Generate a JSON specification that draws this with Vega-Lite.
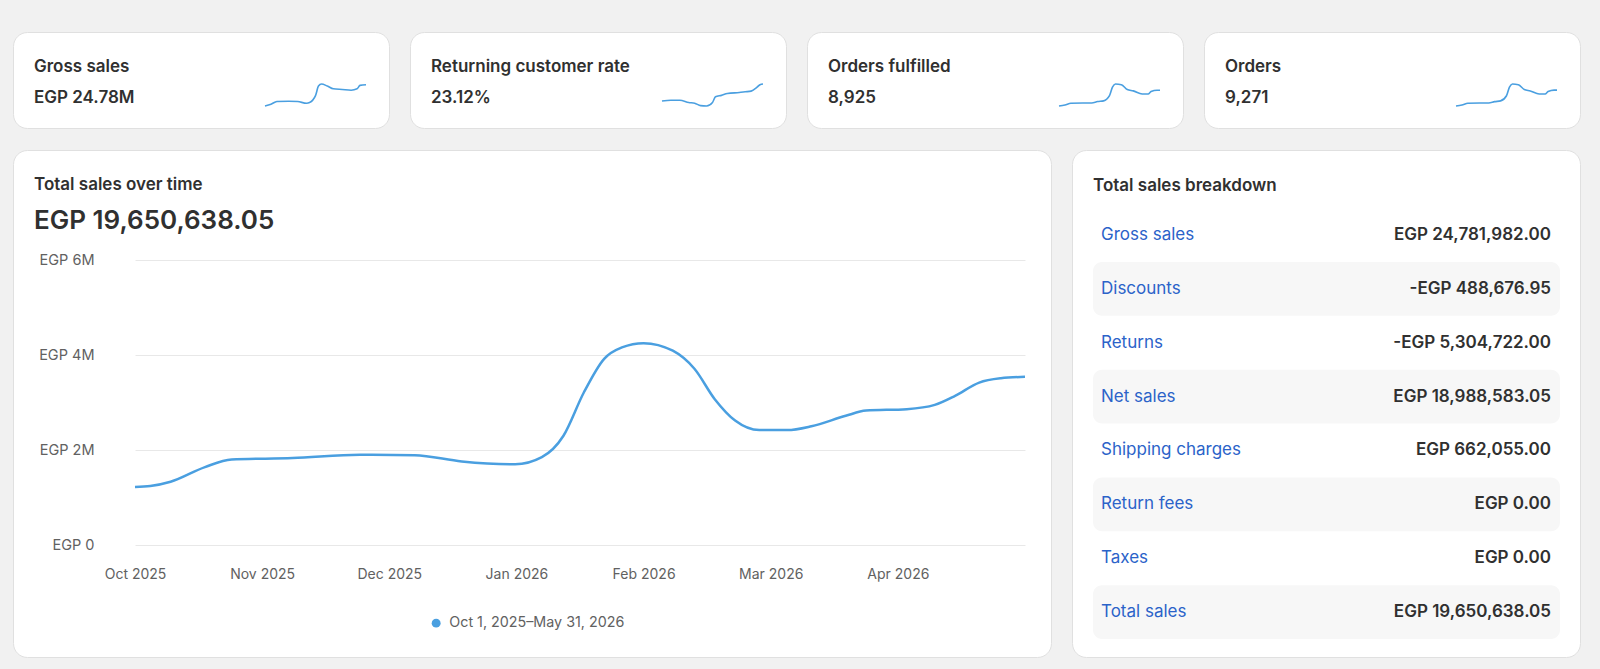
{
  "$schema": "https://vega.github.io/schema/vega-lite/v6.json",
  "background": "#f1f1f1",
  "padding": {"left": 12, "top": 31, "right": 21, "bottom": 11},
  "spacing": 20,
  "config": {
    "font": "Inter",
    "view": {"fill": "#ffffff", "stroke": "#e0e0e0", "strokeWidth": 1, "cornerRadius": 14},
    "title": {"anchor": "start", "frame": "group", "orient": "top", "dx": 21, "fontSize": 17, "fontWeight": 600, "color": "#303030", "subtitleFontSize": 17, "subtitleFontWeight": 600, "subtitleColor": "#303030", "subtitlePadding": 14, "offset": -75, "subtitleFont": "Inter"}
  },
  "datasets": {
    "gross": [
      {"week": 0, "value": 0.40}, {"week": 2, "value": 0.455}, {"week": 4, "value": 0.543}, {"week": 8, "value": 0.554},
      {"week": 11, "value": 0.543}, {"week": 14, "value": 0.488}, {"week": 15, "value": 0.51}, {"week": 17, "value": 0.73},
      {"week": 18, "value": 1.038}, {"week": 19, "value": 1.104}, {"week": 21, "value": 1.038}, {"week": 23, "value": 0.95},
      {"week": 26, "value": 0.928}, {"week": 29, "value": 0.906}, {"week": 31, "value": 0.95}, {"week": 32, "value": 1.06},
      {"week": 34, "value": 1.082}
    ],
    "returning": [
      {"week": 0, "value": 21.4}, {"week": 3, "value": 21.6}, {"week": 6, "value": 21.6}, {"week": 9, "value": 21.0},
      {"week": 11, "value": 20.8}, {"week": 13, "value": 20.1}, {"week": 15, "value": 20.0}, {"week": 17, "value": 21.0},
      {"week": 18, "value": 22.6}, {"week": 20, "value": 23.0}, {"week": 22, "value": 23.5}, {"week": 26, "value": 23.8},
      {"week": 28, "value": 24.0}, {"week": 30, "value": 24.2}, {"week": 32, "value": 25.3}, {"week": 33, "value": 26.0},
      {"week": 34, "value": 26.2}
    ],
    "fulfilled": [
      {"week": 0, "value": 140}, {"week": 2, "value": 150}, {"week": 4, "value": 168}, {"week": 8, "value": 171},
      {"week": 11, "value": 171}, {"week": 13, "value": 185}, {"week": 15, "value": 192}, {"week": 17, "value": 245},
      {"week": 18, "value": 332}, {"week": 19, "value": 364}, {"week": 21, "value": 357}, {"week": 23, "value": 308},
      {"week": 25, "value": 294}, {"week": 28, "value": 262}, {"week": 30, "value": 262}, {"week": 31, "value": 287},
      {"week": 33, "value": 301}, {"week": 34, "value": 301}
    ],
    "orders": [
      {"week": 0, "value": 146}, {"week": 2, "value": 156}, {"week": 4, "value": 175}, {"week": 8, "value": 178},
      {"week": 11, "value": 178}, {"week": 13, "value": 192}, {"week": 15, "value": 200}, {"week": 17, "value": 254},
      {"week": 18, "value": 345}, {"week": 19, "value": 378}, {"week": 21, "value": 371}, {"week": 23, "value": 320},
      {"week": 25, "value": 305}, {"week": 28, "value": 272}, {"week": 30, "value": 272}, {"week": 31, "value": 298},
      {"week": 33, "value": 313}, {"week": 34, "value": 313}
    ],
    "sales": [
      {"month": 0, "sales": 1220000, "period": "Oct 1, 2025–May 31, 2026"},
      {"month": 0.12, "sales": 1240000, "period": "Oct 1, 2025–May 31, 2026"},
      {"month": 0.28, "sales": 1330000, "period": "Oct 1, 2025–May 31, 2026"},
      {"month": 0.55, "sales": 1640000, "period": "Oct 1, 2025–May 31, 2026"},
      {"month": 0.76, "sales": 1800000, "period": "Oct 1, 2025–May 31, 2026"},
      {"month": 1.24, "sales": 1830000, "period": "Oct 1, 2025–May 31, 2026"},
      {"month": 1.77, "sales": 1900000, "period": "Oct 1, 2025–May 31, 2026"},
      {"month": 2.2, "sales": 1890000, "period": "Oct 1, 2025–May 31, 2026"},
      {"month": 2.57, "sales": 1760000, "period": "Oct 1, 2025–May 31, 2026"},
      {"month": 2.99, "sales": 1700000, "period": "Oct 1, 2025–May 31, 2026"},
      {"month": 3.2, "sales": 1850000, "period": "Oct 1, 2025–May 31, 2026"},
      {"month": 3.37, "sales": 2300000, "period": "Oct 1, 2025–May 31, 2026"},
      {"month": 3.53, "sales": 3210000, "period": "Oct 1, 2025–May 31, 2026"},
      {"month": 3.69, "sales": 3920000, "period": "Oct 1, 2025–May 31, 2026"},
      {"month": 3.83, "sales": 4160000, "period": "Oct 1, 2025–May 31, 2026"},
      {"month": 4.0, "sales": 4250000, "period": "Oct 1, 2025–May 31, 2026"},
      {"month": 4.23, "sales": 4090000, "period": "Oct 1, 2025–May 31, 2026"},
      {"month": 4.4, "sales": 3710000, "period": "Oct 1, 2025–May 31, 2026"},
      {"month": 4.56, "sales": 3070000, "period": "Oct 1, 2025–May 31, 2026"},
      {"month": 4.72, "sales": 2620000, "period": "Oct 1, 2025–May 31, 2026"},
      {"month": 4.91, "sales": 2420000, "period": "Oct 1, 2025–May 31, 2026"},
      {"month": 5.13, "sales": 2420000, "period": "Oct 1, 2025–May 31, 2026"},
      {"month": 5.32, "sales": 2500000, "period": "Oct 1, 2025–May 31, 2026"},
      {"month": 5.59, "sales": 2720000, "period": "Oct 1, 2025–May 31, 2026"},
      {"month": 5.75, "sales": 2830000, "period": "Oct 1, 2025–May 31, 2026"},
      {"month": 6.07, "sales": 2860000, "period": "Oct 1, 2025–May 31, 2026"},
      {"month": 6.29, "sales": 2950000, "period": "Oct 1, 2025–May 31, 2026"},
      {"month": 6.45, "sales": 3140000, "period": "Oct 1, 2025–May 31, 2026"},
      {"month": 6.64, "sales": 3420000, "period": "Oct 1, 2025–May 31, 2026"},
      {"month": 6.81, "sales": 3510000, "period": "Oct 1, 2025–May 31, 2026"},
      {"month": 7.0, "sales": 3540000, "period": "Oct 1, 2025–May 31, 2026"}
    ],
    "breakdown": [
      {"label": "Gross sales", "amount": 24781982.00},
      {"label": "Discounts", "amount": -488676.95},
      {"label": "Returns", "amount": -5304722.00},
      {"label": "Net sales", "amount": 18988583.05},
      {"label": "Shipping charges", "amount": 662055.00},
      {"label": "Return fees", "amount": 0},
      {"label": "Taxes", "amount": 0},
      {"label": "Total sales", "amount": 19650638.05}
    ]
  },
  "vconcat": [
    {
      "hconcat": [
        {
          "width": 376, "height": 96,
          "data": {"name": "gross"},
          "title": {"text": "Gross sales", "subtitle": "EGP 24.78M"},
          "mark": {"type": "line", "interpolate": "monotone", "color": "#4a9fe0", "strokeWidth": 1.6},
          "encoding": {
            "x": {"field": "week", "type": "quantitative", "scale": {"range": [252, 353], "nice": false, "zero": false}, "axis": null},
            "y": {"field": "value", "type": "quantitative", "scale": {"range": [74, 52], "nice": false, "zero": false}, "axis": null}
          }
        },
        {
          "width": 376, "height": 96,
          "data": {"name": "returning"},
          "title": {"text": "Returning customer rate", "subtitle": "23.12%"},
          "mark": {"type": "line", "interpolate": "monotone", "color": "#4a9fe0", "strokeWidth": 1.6},
          "encoding": {
            "x": {"field": "week", "type": "quantitative", "scale": {"range": [252, 353], "nice": false, "zero": false}, "axis": null},
            "y": {"field": "value", "type": "quantitative", "scale": {"range": [74, 52], "nice": false, "zero": false}, "axis": null}
          }
        },
        {
          "width": 376, "height": 96,
          "data": {"name": "fulfilled"},
          "title": {"text": "Orders fulfilled", "subtitle": "8,925"},
          "mark": {"type": "line", "interpolate": "monotone", "color": "#4a9fe0", "strokeWidth": 1.6},
          "encoding": {
            "x": {"field": "week", "type": "quantitative", "scale": {"range": [252, 353], "nice": false, "zero": false}, "axis": null},
            "y": {"field": "value", "type": "quantitative", "scale": {"range": [74, 52], "nice": false, "zero": false}, "axis": null}
          }
        },
        {
          "width": 376, "height": 96,
          "data": {"name": "orders"},
          "title": {"text": "Orders", "subtitle": "9,271"},
          "mark": {"type": "line", "interpolate": "monotone", "color": "#4a9fe0", "strokeWidth": 1.6},
          "encoding": {
            "x": {"field": "week", "type": "quantitative", "scale": {"range": [252, 353], "nice": false, "zero": false}, "axis": null},
            "y": {"field": "value", "type": "quantitative", "scale": {"range": [74, 52], "nice": false, "zero": false}, "axis": null}
          }
        }
      ],
      "spacing": 21, "bounds": "flush", "align": "none"
    },
    {
      "hconcat": [
        {
          "width": 1038, "height": 507,
          "data": {"name": "sales"},
          "title": {"text": "Total sales over time", "subtitle": "EGP 19,650,638.05", "subtitleFontSize": 26, "subtitlePadding": 14, "offset": -85},
          "mark": {"type": "line", "interpolate": "monotone", "strokeWidth": 2.5},
          "encoding": {
            "x": {
              "field": "month", "type": "quantitative",
              "scale": {"domain": [0, 7], "range": [122, 1012], "nice": false, "zero": false},
              "axis": {"orient": "bottom", "values": [0, 1, 2, 3, 4, 5, 6], "labelExpr": "['Oct 2025','Nov 2025','Dec 2025','Jan 2026','Feb 2026','Mar 2026','Apr 2026'][datum.value]", "offset": -82.5, "labelPadding": 0, "labelBaseline": "middle", "ticks": false, "domain": false, "grid": false, "labelFontSize": 14, "labelColor": "#616161", "labelFlush": false, "labelOverlap": false, "title": null}
            },
            "y": {
              "field": "sales", "type": "quantitative",
              "scale": {"domain": [0, 6000000], "range": [395, 110], "nice": false},
              "axis": {"values": [0, 2000000, 4000000, 6000000], "labelExpr": "datum.value == 0 ? 'EGP 0' : 'EGP ' + (datum.value / 1000000) + 'M'", "offset": -81, "labelPadding": 0, "ticks": false, "domain": false, "grid": true, "gridColor": "#e8e8e8", "labelFontSize": 14.5, "labelColor": "#616161", "title": null}
            },
            "color": {
              "field": "period", "type": "nominal",
              "scale": {"range": ["#4a9fe0"]},
              "legend": {"orient": "none", "legendX": 416, "legendY": 584, "title": null, "symbolType": "circle", "symbolSize": 80, "symbolFillColor": "#4a9fe0", "symbolStrokeWidth": 0, "labelFontSize": 14.3, "labelColor": "#616161", "labelOffset": 6, "labelLimit": 400, "padding": 0}
            }
          }
        },
        {
          "width": 508, "height": 507,
          "data": {"name": "breakdown"},
          "title": {"text": "Total sales breakdown", "offset": -45},
          "transform": [
            {"calculate": "(datum.amount < 0 ? '-' : '') + 'EGP ' + format(abs(datum.amount), ',.2f')", "as": "display"}
          ],
          "encoding": {
            "y": {
              "field": "label", "type": "nominal",
              "scale": {"domain": ["Gross sales", "Discounts", "Returns", "Net sales", "Shipping charges", "Return fees", "Taxes", "Total sales"], "range": [58, 489], "paddingInner": 0, "paddingOuter": 0},
              "axis": null
            }
          },
          "layer": [
            {
              "transform": [{"filter": {"field": "label", "oneOf": ["Discounts", "Net sales", "Return fees", "Total sales"]}}],
              "mark": {"type": "rect", "fill": "#f7f7f7", "cornerRadius": 9},
              "encoding": {
                "x": {"datum": 0, "type": "quantitative", "scale": {"domain": [0, 1], "range": [21, 488], "nice": false, "zero": false}, "axis": null},
                "x2": {"datum": 1}
              }
            },
            {
              "mark": {"type": "text", "align": "left", "baseline": "middle", "dx": 8, "fontSize": 17, "color": "#2b63c9"},
              "encoding": {
                "x": {"datum": 0, "type": "quantitative"},
                "text": {"field": "label"}
              }
            },
            {
              "mark": {"type": "text", "align": "right", "baseline": "middle", "dx": -9, "fontSize": 17, "fontWeight": 600, "color": "#303030"},
              "encoding": {
                "x": {"datum": 1, "type": "quantitative"},
                "text": {"field": "display"}
              }
            }
          ]
        }
      ],
      "spacing": 21, "bounds": "flush", "align": "none"
    }
  ]
}
